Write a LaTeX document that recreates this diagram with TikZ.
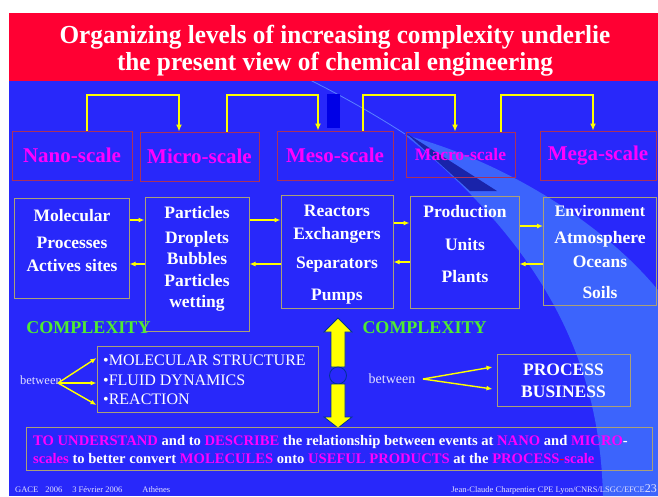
\documentclass[tikz,border=0pt]{standalone}
\usepackage{fontspec}
\setmainfont{Liberation Serif}
\usetikzlibrary{arrows.meta}
\definecolor{bg}{RGB}{40,40,250}
\definecolor{redbar}{RGB}{255,0,51}
\definecolor{lightband}{RGB}{60,100,252}
\definecolor{scaleborder}{RGB}{170,50,90}
\definecolor{boxborder}{RGB}{170,160,120}
\definecolor{magtext}{RGB}{255,0,255}
\definecolor{greentext}{RGB}{80,235,50}
\definecolor{ylw}{RGB}{255,255,0}
\definecolor{darkoutline}{RGB}{0,50,150}
\definecolor{footer}{RGB}{225,225,255}
\definecolor{navy}{RGB}{0,0,230}
\definecolor{wedge}{RGB}{25,35,170}
\definecolor{thinline}{RGB}{90,130,255}
\tikzset{
  scalebox/.style={draw=scaleborder,line width=0.9pt,inner sep=0pt,text=magtext,font=\fontsize{21}{24}\selectfont\bfseries},
  contentbox/.style={draw=boxborder,line width=1pt,inner sep=0pt},
  txt/.style={text=white,inner sep=0pt,anchor=base,font=\fontsize{17.5}{20}\selectfont\bfseries},
  titletxt/.style={text=white,inner sep=0pt,xscale=0.97,font=\fontsize{26}{28}\selectfont\bfseries},
  elbow/.style={draw=ylw,line width=1.8pt,-{Latex[length=7pt,width=6pt]}},
  harrow/.style={draw=ylw,line width=1.2pt,-{Latex[length=6pt,width=5pt]}},
  barrow/.style={draw=ylw,line width=1.4pt,-{Latex[length=6pt,width=5pt]}},
  cplx/.style={text=greentext,inner sep=0pt,font=\fontsize{18}{20}\selectfont\bfseries},
  goaltxt/.style={text=white,inner sep=0pt,anchor=base west,font=\fontsize{14.6}{17}\selectfont\bfseries},
}
\begin{document}
\begin{tikzpicture}[x=1pt,y=-1pt]
\useasboundingbox (0,0) rectangle (658,496);
\fill[white] (0,0) rectangle (658,496);
\fill[bg] (9,80) rectangle (658,496);
% decorative swoosh
\fill[lightband] (405,135) .. controls (500,160) and (600,220) .. (658,290) -- (658,496) -- (603,496) .. controls (600,380) and (560,260) .. (405,135) -- cycle;
\fill[wedge] (406,133) -- (497,191) -- (470,191) -- cycle;
\draw[thinline,line width=0.8pt] (310,80) .. controls (350,100) and (380,118) .. (405,134);
\fill[redbar] (9,13) rectangle (658,81);
\node[titletxt] (title1) at (335,37) {Organizing levels of increasing complexity underlie};
\node[titletxt] (title2) at (335,64) {the present view of chemical engineering};
% small navy block
\fill[navy] (327,94) rectangle (340,128);
% scale boxes
\node[scalebox,minimum width=120pt,minimum height=49pt] (nano) at (72,155.5) {Nano-scale};
\node[scalebox,minimum width=119pt,minimum height=49pt] (micro) at (199.5,156.5) {Micro-scale};
\node[scalebox,minimum width=116pt,minimum height=49pt] (meso) at (335,155.5) {Meso-scale};
\node[scalebox,minimum width=109pt,minimum height=45pt,font=\fontsize{17.5}{20}\selectfont\bfseries] (macro) at (460.5,154.5) {Macro-scale};
\node[scalebox,minimum width=116pt,minimum height=49pt] (mega) at (598,155.5) {Mega-scale};
\draw[elbow] (87,0 |- nano.north) -- (87,95) -- (179,95) -- (179,0 |- micro.north);
\draw[elbow] (227,0 |- micro.north) -- (227,95) -- (318,95) -- (318,0 |- meso.north);
\draw[elbow] (363,0 |- meso.north) -- (363,95) -- (455,95) -- (455,0 |- macro.north);
\draw[elbow] (501,0 |- macro.north) -- (501,95) -- (593,95) -- (593,0 |- mega.north);
% content boxes
\node[contentbox,minimum width=115pt,minimum height=100pt] (mol) at (71.5,248) {};
\node[contentbox,minimum width=104pt,minimum height=134pt] (part) at (197,264) {};
\node[contentbox,minimum width=112pt,minimum height=113pt] (reac) at (337,251.5) {};
\node[contentbox,minimum width=109pt,minimum height=112pt] (prod) at (464.5,252) {};
\node[contentbox,minimum width=113pt,minimum height=108pt] (env) at (600,251) {};
\node[txt] (m1) at (72,221) {Molecular};
\node[txt] (m2) at (72,248) {Processes};
\node[txt] (m3) at (72,271) {Actives sites};
\node[txt] (p1) at (197,218) {Particles};
\node[txt] (p2) at (197,243) {Droplets};
\node[txt] (p3) at (197,264) {Bubbles};
\node[txt] (p4) at (197,286) {Particles};
\node[txt] (p5) at (197,307) {wetting};
\node[txt] (r1) at (337,216) {Reactors};
\node[txt] (r2) at (337,239) {Exchangers};
\node[txt] (r3) at (337,268) {Separators};
\node[txt] (r4) at (337,300) {Pumps};
\node[txt] (q1) at (465,217) {Production};
\node[txt] (q2) at (465,250) {Units};
\node[txt] (q3) at (465,282) {Plants};
\node[txt,font=\fontsize{16}{18}\selectfont\bfseries] (e1) at (600,216) {Environment};
\node[txt] (e2) at (600,243) {Atmosphere};
\node[txt] (e3) at (600,267) {Oceans};
\node[txt] (e4) at (600,298) {Soils};
% horizontal arrows
\draw[harrow] (mol.east |- 0,220) -- (part.west |- 0,220);
\draw[harrow] (part.west |- 0,264) -- (mol.east |- 0,264);
\draw[harrow] (part.east |- 0,220) -- (reac.west |- 0,220);
\draw[harrow] (reac.west |- 0,264) -- (part.east |- 0,264);
\draw[harrow] (reac.east |- 0,223) -- (prod.west |- 0,223);
\draw[harrow] (prod.west |- 0,262) -- (reac.east |- 0,262);
\draw[harrow] (prod.east |- 0,226) -- (env.west |- 0,226);
\draw[harrow] (env.west |- 0,264) -- (prod.east |- 0,264);
% complexity
\node[cplx] (cx1) at (88.5,328) {COMPLEXITY};
\node[cplx] (cx2) at (424.5,328) {COMPLEXITY};
% central double arrow
\filldraw[fill=ylw,draw=darkoutline,line width=0.8pt] (338,318) -- (352,332) -- (345,332) -- (345,367) -- (331,367) -- (331,332) -- (324,332) -- cycle;
\node[circle,draw=darkoutline,line width=0.8pt,fill=bg,minimum size=17pt,inner sep=0pt] (ring) at (338,375.5) {};
\filldraw[fill=ylw,draw=darkoutline,line width=0.8pt] (338,428) -- (352,417) -- (345,417) -- (345,384) -- (331,384) -- (331,417) -- (324,417) -- cycle;
% left between
\node[contentbox,minimum width=221pt,minimum height=66pt] (bul) at (207.5,379) {};
\node[text=white,inner sep=0pt,anchor=base west,font=\fontsize{16}{18}\selectfont] (b1) at (103,365) {•MOLECULAR STRUCTURE};
\node[text=white,inner sep=0pt,anchor=base west,font=\fontsize{16}{18}\selectfont] (b2) at (103,385) {•FLUID DYNAMICS};
\node[text=white,inner sep=0pt,anchor=base west,font=\fontsize{16}{18}\selectfont] (b3) at (103,404) {•REACTION};
\node[text=footer,inner sep=0pt,font=\fontsize{12.5}{14}\selectfont] (bw1) at (41,380) {between};
\coordinate (o1) at (58,383);
\draw[barrow] (o1) -- (bul.west |- 0,358);
\draw[barrow] (o1) -- (bul.west |- 0,383);
\draw[barrow] (o1) -- (bul.west |- 0,405);
% right between
\node[contentbox,minimum width=133pt,minimum height=52pt] (proc) at (563.5,380) {};
\node[txt] (pr1) at (563.5,375) {PROCESS};
\node[txt] (pr2) at (563.5,397) {BUSINESS};
\node[text=footer,inner sep=0pt,font=\fontsize{14}{16}\selectfont] (bw2) at (392,379) {between};
\coordinate (o2) at (423,379);
\draw[barrow] (o2) -- ([xshift=-4pt]proc.west |- 0,367);
\draw[barrow] (o2) -- ([xshift=-4pt]proc.west |- 0,389);
% bottom box
\node[contentbox,minimum width=626pt,minimum height=43pt] (goal) at (339,448.5) {};
\node[goaltxt] (g1) at (33,445) {\textcolor{magtext}{TO UNDERSTAND} and to \textcolor{magtext}{DESCRIBE} the relationship between events at \textcolor{magtext}{NANO} and \textcolor{magtext}{MICRO}-};
\node[goaltxt] (g2) at (33,463) {\textcolor{magtext}{scales} to better convert \textcolor{magtext}{MOLECULES} onto \textcolor{magtext}{USEFUL PRODUCTS} at the \textcolor{magtext}{PROCESS}\textcolor{red}{-}\textcolor{magtext}{scale}};
% footer
\node[text=footer,inner sep=0pt,anchor=base west,font=\fontsize{8.5}{9}\selectfont] (f1) at (15,492) {GACE\hspace{7pt}2006\hspace{10pt}3 Février 2006\hspace{20pt}Athènes};
\node[text=footer,inner sep=0pt,anchor=base east,font=\fontsize{8.5}{9}\selectfont] (f2) at (657,492) {Jean-Claude Charpentier CPE Lyon/CNRS/LSGC/EFCE{\fontsize{12}{13}\selectfont 23}};
\end{tikzpicture}
\end{document}
